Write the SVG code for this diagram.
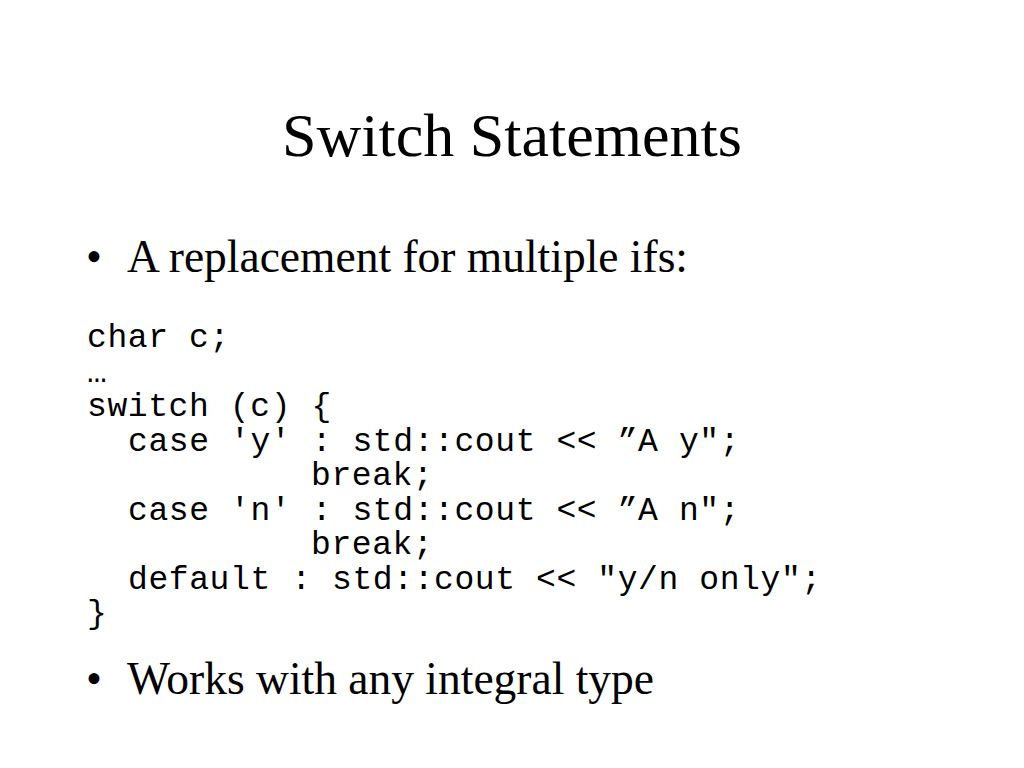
<svg xmlns="http://www.w3.org/2000/svg" width="1024" height="768" viewBox="0 0 1024 768">
<style>
.title{font-family:"Liberation Serif","Times New Roman",serif;font-size:62px;fill:#000}
.bullet{font-family:"Liberation Serif","Times New Roman",serif;font-size:45.5px;fill:#000}
.code{font-family:"Liberation Mono","Courier New",monospace;font-size:33px;letter-spacing:0.6px;fill:#000}
</style>
<rect x="0" y="0" width="1024" height="768" fill="#ffffff"/>
<text id="title" class="title" x="512" y="156" text-anchor="middle">Switch Statements</text>
<g id="bullet1">
<text class="bullet" x="86" y="272">•</text>
<text class="bullet" x="127" y="272">A replacement for multiple ifs:</text>
</g>
<g id="code">
<text class="code" x="87" y="347">char c;</text>
<text class="code" x="87" y="382">…</text>
<text class="code" x="87" y="416">switch (c) {</text>
<text class="code" x="128" y="451">case 'y' : std::cout &lt;&lt; ”A y";</text>
<text class="code" x="311" y="485">break;</text>
<text class="code" x="128" y="520">case 'n' : std::cout &lt;&lt; ”A n";</text>
<text class="code" x="311" y="554">break;</text>
<text class="code" x="128" y="589">default : std::cout &lt;&lt; "y/n only";</text>
<text class="code" x="87" y="623">}</text>
</g>
<g id="bullet2">
<text class="bullet" x="86" y="694">•</text>
<text class="bullet" x="127" y="694">Works with any integral type</text>
</g>
</svg>
